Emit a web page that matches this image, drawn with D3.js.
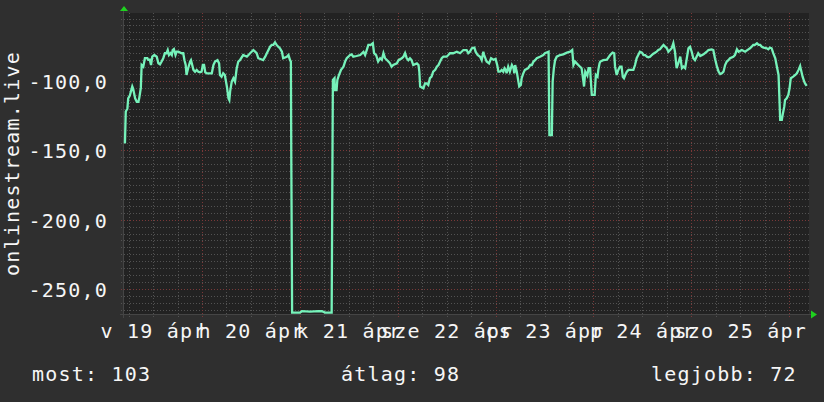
<!DOCTYPE html>
<html lang="hu">
<head>
<meta charset="UTF-8">
<title>onlinestream.live</title>
<script src="https://d3js.org/d3.v7.min.js"></script>
<style>
  body { margin: 0; background: #2f2f2f; }
  svg { display: block; }
  text { font-family: "DejaVu Sans Mono", monospace; fill: #f6f6f6; font-size: 20px; letter-spacing: 1.2px; }
  .grid-minor { stroke: #525252; stroke-width: 1; stroke-dasharray: 1,2; }
  .grid-major { stroke: #7a3838; stroke-width: 1; stroke-dasharray: 1,2; }
  .axis-line { stroke: #454545; stroke-width: 1; }
  .signal { fill: none; stroke: #76f2ba; stroke-width: 2.3; stroke-linejoin: miter; }
</style>
</head>
<body>
<div id="chart"></div>
<script>
// hours since 2015-04-19 00:00 and the signal level read at that time
const hours = [
  5.1, 5.3, 5.7, 5.9, 6.3, 6.9, 7.1, 7.6, 8.0, 8.4, 8.6, 9.0, 9.2, 9.6, 10.0, 10.6, 10.8, 11.2, 11.5, 11.8,
  12.3, 12.9, 13.3, 13.7, 14.1, 14.5, 14.9, 15.3, 15.6, 15.9, 16.3, 16.6, 16.8, 17.1, 17.5, 17.8, 18.2, 19.0, 19.4, 19.7,
  20.0, 20.2, 20.6, 21.1, 21.3, 21.6, 21.9, 22.3, 22.7, 23.1, 23.5, 23.9, 24.2, 24.5, 24.8, 25.2, 26.4, 26.8, 27.2, 27.8,
  28.2, 28.4, 28.8, 29.2, 29.6, 30.1, 30.5, 30.7, 30.9, 31.3, 31.7, 32.1, 32.5, 32.9, 33.3, 34.1, 35.0, 35.8, 36.6, 37.4,
  37.8, 39.0, 39.5, 39.9, 40.3, 40.7, 41.1, 41.5, 41.9, 42.3, 42.7, 43.1, 43.6, 43.9, 44.8, 45.2, 45.6, 45.8, 45.9, 46.1,
  48.0, 48.5, 50.5, 52.5, 53.4, 54.2, 55.8, 56.1, 56.5, 56.6, 57.0, 57.2, 57.6, 58.1, 58.7, 59.1, 59.5, 59.9, 60.3, 60.7,
  61.1, 61.9, 62.8, 63.6, 64.0, 64.4, 64.8, 65.4, 65.9, 66.2, 66.7, 67.2, 67.7, 68.1, 68.5, 68.9, 69.7, 70.1, 70.5, 70.9,
  71.8, 72.2, 73.0, 73.4, 73.8, 74.2, 74.6, 75.0, 75.4, 75.8, 76.7, 77.1, 77.3, 77.5, 78.3, 78.7, 79.1, 79.5, 79.9, 80.3,
  80.7, 81.2, 81.6, 82.0, 82.4, 82.8, 83.2, 84.0, 84.4, 84.8, 85.6, 86.5, 87.3, 88.1, 88.9, 89.3, 89.7, 90.2, 90.8, 91.1,
  91.6, 92.2, 92.6, 93.0, 93.2, 93.8, 94.4, 94.9, 95.5, 96.0, 96.4, 96.7, 97.1, 97.5, 97.9, 98.2, 98.5, 98.7, 99.1, 99.5,
  100.0, 100.4, 100.6, 100.8, 101.2, 101.6, 101.8, 102.2, 102.4, 102.8, 103.2, 104.0, 104.5, 104.9, 105.3, 105.7, 106.1, 106.9, 107.7, 108.1,
  109.0, 109.2, 109.8, 110.0, 110.3, 110.6, 111.0, 111.8, 112.6, 113.5, 114.3, 114.8, 115.1, 115.5, 115.9, 116.3, 116.7, 117.1, 117.4, 117.7,
  118.0, 118.5, 118.8, 119.2, 119.3, 119.6, 120.3, 120.6, 121.0, 121.2, 121.5, 121.7, 122.4, 123.3, 124.1, 124.7, 125.1, 125.3, 125.7, 126.1,
  126.5, 126.9, 127.2, 127.5, 127.8, 128.2, 128.6, 129.8, 130.2, 130.6, 131.0, 131.4, 131.9, 132.3, 132.7, 133.1, 133.5, 133.9, 134.3, 134.7,
  135.1, 135.5, 135.9, 136.3, 136.8, 137.2, 137.6, 138.0, 138.4, 138.8, 139.2, 139.6, 140.0, 140.4, 140.8, 141.3, 141.7, 142.1, 142.5, 142.9,
  143.3, 143.7, 144.1, 144.5, 144.9, 145.3, 145.7, 146.2, 147.0, 147.8, 148.2, 149.0, 149.4, 149.8, 150.3, 150.7, 151.1, 151.5, 151.9, 152.3,
  152.7, 153.1, 153.5, 154.3, 154.7, 155.2, 155.6, 156.4, 157.2, 158.0, 158.4, 158.8, 159.2, 159.6, 160.1, 160.5, 160.9, 161.3, 161.7, 162.5,
  162.9, 163.3, 163.7, 164.1, 164.6, 165.0, 165.4, 165.6, 165.8, 166.2, 166.4, 166.8, 167.0, 167.4, 167.8, 168.1, 168.4, 169.0, 169.5, 169.9,
  170.3, 170.7, 170.9, 171.3, 171.7, 171.9, 172.3
];
const values = [
  -145, -122, -120, -112.5, -110.5, -104, -105.5, -112.5, -115, -115, -112.5, -105, -88.5, -89.7, -83.6, -83.6, -84.7, -84.7, -88.5, -82.5,
  -81.3, -82.5, -87.3, -88, -86, -83.6, -80, -80, -77.7, -81.3, -80, -81.3, -77.7, -77, -81.3, -78.9, -78.9, -80, -80, -85,
  -88.5, -95.7, -90.8, -86, -85, -88.5, -92, -93.3, -92, -93.3, -93.7, -93.3, -88.5, -88.5, -93.7, -94.5, -94.5, -88.5, -86, -85,
  -87.3, -95.7, -97, -94.5, -95.7, -104, -112.5, -113.7, -107.5, -100.5, -98, -100.5, -91, -86, -85, -81.3, -82.5, -80, -77.7, -80,
  -83.6, -85, -82.5, -80, -77.7, -75.3, -74, -74, -72.2, -74, -75.3, -76.4, -78.9, -83.6, -82.5, -81.3, -85, -86, -156, -267,
  -267, -266, -266.3, -266, -266, -267, -267, -99.3, -98, -106.5, -106.5, -99.3, -95.7, -92, -89.7, -86, -83.6, -82.5, -81.3, -80.8,
  -82.5, -82, -81.3, -79, -81.3, -77.7, -74, -74, -72.8, -80, -81.3, -86, -83.6, -84.7, -80, -83.6, -86, -87.3, -89.7, -88.5,
  -87.3, -85, -83.6, -82.5, -80, -83.6, -85, -83.6, -85, -88.5, -87.3, -88.5, -93.3, -104, -105.3, -101.7, -101.7, -102.9, -98, -96.9,
  -93.3, -92, -89.7, -88.5, -86, -83.6, -82.5, -82.5, -81.3, -80, -80, -78.9, -80, -77.7, -77.7, -80, -78.9, -76.4, -76, -78.9,
  -81.3, -82.5, -85, -78.9, -81.3, -86, -87.3, -83.6, -84.7, -84.1, -88.5, -93.3, -93.3, -92, -93.3, -90.8, -92, -94.5, -89.7, -93.3,
  -88.5, -90.8, -94.5, -88.5, -93.3, -100.5, -104, -102.9, -98, -94.5, -92, -90.8, -88.5, -88.5, -86, -85, -83.6, -82.5, -81.3, -80,
  -78.9, -139, -139, -100.5, -90.8, -85, -82.5, -81.3, -80.8, -79.6, -78.9, -77.7, -88.5, -86, -87.3, -88.5, -89.7, -90.8, -97, -104,
  -93.3, -96, -90.8, -90.8, -97, -110, -110, -95.7, -96.9, -92, -87.3, -86, -85, -84.7, -81.3, -79.6, -80, -89.7, -95.7, -92,
  -89.7, -89.7, -96.9, -98, -95.7, -93.3, -92, -92, -88.5, -83.6, -81.3, -78.9, -79.6, -81.3, -81.3, -82.5, -82.9, -82.5, -81.3, -80.3,
  -79.6, -78.9, -77.7, -77.2, -75.3, -74, -75.3, -76.4, -78.9, -77.7, -76.4, -72.8, -78.9, -90.8, -87.3, -82.5, -90.8, -89.7, -90.8, -83.6,
  -76.4, -75.3, -78.9, -83.6, -85, -82.5, -80, -82, -80.8, -78.9, -77.7, -77.2, -77.7, -83.6, -89.7, -93.3, -95, -94.5, -93.3, -88.5,
  -86, -85, -83.6, -82.5, -81.3, -77.2, -78.9, -77.7, -78.9, -77.2, -76.4, -75.3, -74, -74, -72.8, -74, -74, -75.3, -75.9, -76.4,
  -77.2, -75.9, -76.4, -80, -83.6, -89.7, -95.7, -111.3, -128, -128, -124.5, -118.5, -113.7, -112.5, -110, -105.3, -98, -96.9, -95.7, -94.5,
  -92, -89.2, -92, -96.9, -100.5, -101.7, -103.6
];

const dayLabels = ["v 19 ápr", "h 20 ápr", "k 21 ápr", "sze 22 ápr", "cs 23 ápr", "p 24 ápr", "szo 25 ápr"];
const yTicks = [-250, -200, -150, -100];
const statLabels = ["most: 103", "átlag: 98", "legjobb: 72"];
const statX = [32, 341, 651];
const yTitle = "onlinestream.live";

const width = 824, height = 402;
const margin = { top: 13, right: 15, bottom: 88, left: 124 };
const plotW = width - margin.left - margin.right;
const plotH = height - margin.top - margin.bottom;

const base = new Date(2015, 3, 19, 0, 0);
const toDate = h => new Date(base.getTime() + h * 3600e3);
const data = hours.map((h, i) => ({ date: toDate(h), value: values[i] }));

const hu = d3.formatLocale({ decimal: ",", thousands: " ", grouping: [3], currency: ["", ""], minus: "-" });
const fmt = hu.format(".1f");

const svg = d3.select("#chart").append("svg")
    .attr("width", width)
    .attr("height", height);

svg.append("rect").attr("width", width).attr("height", height).attr("fill", "#2f2f2f");

const g = svg.append("g")
    .attr("transform", "translate(" + margin.left + "," + margin.top + ")");

const x = d3.scaleTime()
    .domain([toDate(4.87), toDate(172.87)])
    .range([0, plotW]);

const y = d3.scaleLinear()
    .domain([-268, -51])
    .range([plotH, 0]);

// plot background
g.append("rect").attr("width", plotW).attr("height", plotH).attr("fill", "#222222");

// minor grid
const minorY = d3.range(-265, -50, 5).filter(v => yTicks.indexOf(v) < 0);
g.selectAll(".hmin").data(minorY).join("line")
    .attr("class", "grid-minor")
    .attr("x1", -3).attr("x2", plotW)
    .attr("y1", d => Math.round(y(d)) + 0.5).attr("y2", d => Math.round(y(d)) + 0.5);

const sixHours = x.ticks(d3.timeHour.every(6)).filter(d => d.getHours() !== 0);
g.selectAll(".vmin").data(sixHours).join("line")
    .attr("class", "grid-minor")
    .attr("y1", 0).attr("y2", plotH + 3)
    .attr("x1", d => Math.round(x(d)) + 0.5).attr("x2", d => Math.round(x(d)) + 0.5);

// major grid
g.selectAll(".hmaj").data(yTicks).join("line")
    .attr("class", "grid-major")
    .attr("x1", -3).attr("x2", plotW)
    .attr("y1", d => Math.round(y(d)) + 0.5).attr("y2", d => Math.round(y(d)) + 0.5);

const days = x.ticks(d3.timeDay.every(1));
g.selectAll(".vmaj").data(days).join("line")
    .attr("class", "grid-major")
    .attr("y1", 0).attr("y2", plotH + 4)
    .attr("x1", d => Math.round(x(d)) + 0.5).attr("x2", d => Math.round(x(d)) + 0.5);

// axis lines with arrows
g.append("line").attr("class", "axis-line")
    .attr("x1", -4).attr("x2", plotW + 4)
    .attr("y1", plotH + 0.5).attr("y2", plotH + 0.5);
g.append("line").attr("class", "axis-line")
    .attr("x1", -0.5).attr("x2", -0.5)
    .attr("y1", plotH + 4).attr("y2", -4);
g.append("path")
    .attr("d", d3.line()([[-4, -2], [0, -7], [4, -2]]) + "Z")
    .attr("fill", "#1fd11f");
g.append("path")
    .attr("d", d3.line()([[plotW + 2, plotH - 3.5], [plotW + 8, plotH + 0.5], [plotW + 2, plotH + 4.5]]) + "Z")
    .attr("fill", "#1fd11f");

// the signal line
g.append("path")
    .datum(data)
    .attr("class", "signal")
    .attr("d", d3.line().x(d => x(d.date)).y(d => y(d.value)));

// y axis labels
const yAxis = g.append("g")
    .call(d3.axisLeft(y).tickValues(yTicks).tickFormat(fmt).tickSize(0).tickPadding(16));
yAxis.select(".domain").remove();
yAxis.selectAll("text")
    .attr("dy", "0.37em")
    .attr("fill", "#f6f6f6");

// x axis labels (centred on noon of each day)
const noons = dayLabels.map((d, i) => toDate(12 + 24 * i));
const xAxis = g.append("g")
    .attr("transform", "translate(0," + plotH + ")")
    .call(d3.axisBottom(x).tickValues(noons).tickFormat((d, i) => dayLabels[i]).tickSize(0).tickPadding(10));
xAxis.select(".domain").remove();
xAxis.selectAll("text")
    .attr("fill", "#f6f6f6");
svg.selectAll("g").attr("font-family", null).attr("font-size", null);

// vertical title
svg.append("text")
    .attr("transform", "translate(19," + (margin.top + plotH / 2) + ") rotate(-90)")
    .attr("text-anchor", "middle")
    .text(yTitle);

// footer stats
svg.selectAll(".stat").data(statLabels).join("text")
    .attr("class", "stat")
    .attr("x", (d, i) => statX[i])
    .attr("y", 381)
    .text(d => d);
</script>
</body>
</html>
